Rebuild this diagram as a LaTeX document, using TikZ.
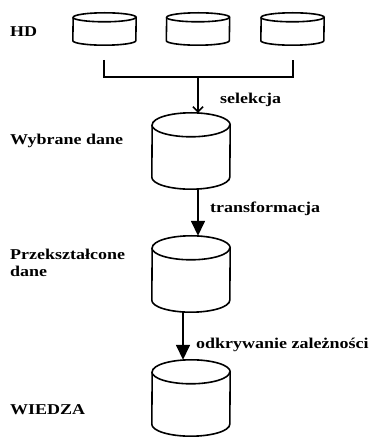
\documentclass[tikz,border=0pt]{standalone}
\usepackage{fontspec}
\newfontfamily\etykieta{Liberation Serif}[FakeStretch=1.2]
\usetikzlibrary{arrows.meta}

% obrys walca wokol wezla: nazwa, pol szerokosci, pol wysokosci elipsy
\newcommand\walec[3]{%
  \draw[kontur] ([yshift=-#3]#1.north east) arc[start angle=0, end angle=180, x radius=#2, y radius=#3]
    -- ([yshift=#3]#1.south west) arc[start angle=180, end angle=360, x radius=#2, y radius=#3]
    -- cycle;
  \draw[kontur] ([yshift=-#3]#1.north west) arc[start angle=180, end angle=360, x radius=#2, y radius=#3];
}

\begin{document}
\begin{tikzpicture}[x=1pt, y=1pt,
    kontur/.style={line width=1.6pt, line join=round},
    dysk/.style={rectangle, inner sep=0pt, minimum width=63pt, minimum height=32pt},
    baza/.style={rectangle, inner sep=0pt, minimum width=78pt, minimum height=76pt},
    opis/.style={anchor=west, inner sep=0pt, font=\etykieta\bfseries\fontsize{15}{17.5}\selectfont},
    strzalka/.style={line width=1.6pt, -{Triangle[length=15pt,width=14pt]}}
]
\useasboundingbox (0,0) rectangle (370,437);

% Hurtownia
\node[opis] (hd) at (10,405) {HD};
\node[dysk] (d1) at (104.5,408) {};
\node[dysk] (d2) at (198,408) {};
\node[dysk] (d3) at (292.5,408) {};
\walec{d1}{31.5pt}{4.5pt}
\walec{d2}{31.5pt}{4.5pt}
\walec{d3}{31.5pt}{4.5pt}

\coordinate (k1) at (104,377);
\coordinate (k2) at (293,377);
\coordinate (kj) at (198,360);
\draw[line width=1.6pt] (k1) |- (kj) -| (k2);

% Kolejne etapy
\node[baza] (c2) at (191,286) {};
\node[baza] (c3) at (191,163) {};
\node[baza] (c4) at (191,39) {};
\walec{c2}{39pt}{12pt}
\walec{c3}{39pt}{12pt}
\walec{c4}{39pt}{12pt}

\node[opis] (wd) at (10,296) {Wybrane dane};
\node[opis, align=left] (pd) at (10,174) {Przekształcone\\dane};
\node[opis] (wi) at (10,27) {WIEDZA};

\draw[line width=1.6pt, -{Straight Barb[length=5pt,width=10pt]}] (kj) -- ([xshift=7pt]c2.north);
\node[opis] (sel) at (220,337) {selekcja};

\draw[strzalka] ([xshift=7pt]c2.south) -- ([xshift=7pt]c3.north);
\node[opis] (tr) at (210,228) {transformacja};

\draw[strzalka] ([xshift=-8pt]c3.south) -- ([xshift=-8pt]c4.north);
\node[opis] (od) at (196,92) {odkrywanie zależności};
\end{tikzpicture}
\end{document}
